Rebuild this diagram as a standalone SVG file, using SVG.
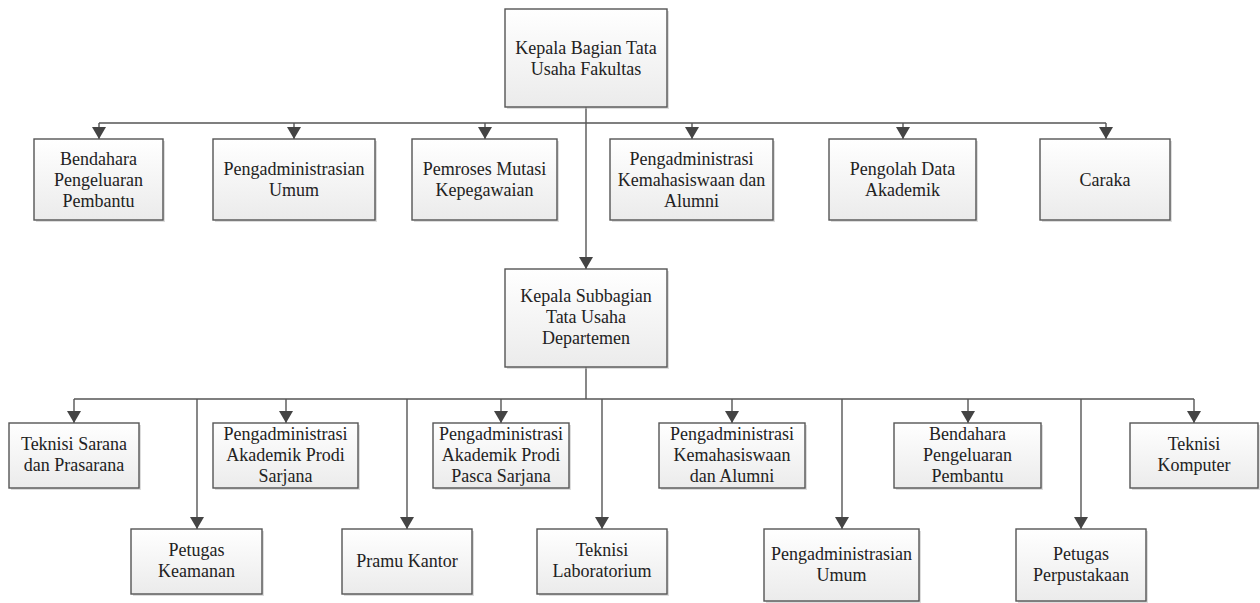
<svg xmlns="http://www.w3.org/2000/svg" width="1260" height="603" viewBox="0 0 1260 603">
<style>
.box{fill:url(#g);stroke:#555;stroke-width:1.4}
.sh{fill:#bbb;opacity:0.5}
text{font-family:'Liberation Serif','Times New Roman',Tinos,'DejaVu Serif',serif;font-size:18px;fill:#222;text-anchor:middle}
.c{fill:none;stroke:#555;stroke-width:1.4}
.a{marker-end:url(#ar)}
</style>
<defs>
<linearGradient id="g" x1="0" y1="0" x2="0" y2="1">
<stop offset="0" stop-color="#ffffff"/>
<stop offset="1" stop-color="#ebebeb"/>
</linearGradient>
<marker id="ar" markerUnits="userSpaceOnUse" markerWidth="16" markerHeight="16" refX="12" refY="7" orient="auto">
<path d="M0,0 L12,7 L0,14 z" fill="#444"/>
</marker>
</defs>
<rect width="1260" height="603" fill="#fff"/>
<g id="connectors">
<path class="c a" d="M586,107 V269"/>
<path class="c" d="M99,123 H1106"/>
<path class="c a" d="M99,123 V139"/>
<path class="c a" d="M294,123 V139"/>
<path class="c a" d="M485,123 V139"/>
<path class="c a" d="M692,123 V139"/>
<path class="c a" d="M903,123 V139"/>
<path class="c a" d="M1106,123 V139"/>
<path class="c" d="M586,367 V399"/>
<path class="c" d="M74,399 H1194"/>
<path class="c a" d="M74,399 V423"/>
<path class="c a" d="M286,399 V423"/>
<path class="c a" d="M501,399 V423"/>
<path class="c a" d="M732,399 V423"/>
<path class="c a" d="M968,399 V423"/>
<path class="c a" d="M1194,399 V423"/>
<path class="c a" d="M197,399 V529"/>
<path class="c a" d="M407,399 V529"/>
<path class="c a" d="M602,399 V529"/>
<path class="c a" d="M842,399 V529"/>
<path class="c a" d="M1081,399 V529"/>
</g>
<g id="n-kabag">
<rect class="sh" x="507" y="11" width="162" height="98"/>
<rect class="box" x="505" y="9" width="162" height="98"/>
<text x="586" y="53.5" font-family="Liberation Serif, serif">Kepala Bagian Tata</text>
<text x="586" y="74.5" font-family="Liberation Serif, serif">Usaha Fakultas</text>
</g>
<g id="n-bendahara1">
<rect class="sh" x="36" y="141" width="129" height="81"/>
<rect class="box" x="34" y="139" width="129" height="81"/>
<text x="98.5" y="165">Bendahara</text>
<text x="98.5" y="186">Pengeluaran</text>
<text x="98.5" y="207">Pembantu</text>
</g>
<g id="n-pengumum1">
<rect class="sh" x="215" y="141" width="162" height="81"/>
<rect class="box" x="213" y="139" width="162" height="81"/>
<text x="294" y="175">Pengadministrasian</text>
<text x="294" y="196">Umum</text>
</g>
<g id="n-mutasi">
<rect class="sh" x="414" y="141" width="145" height="81"/>
<rect class="box" x="412" y="139" width="145" height="81"/>
<text x="484.5" y="175">Pemroses Mutasi</text>
<text x="484.5" y="196">Kepegawaian</text>
</g>
<g id="n-kemahasiswaan1">
<rect class="sh" x="612" y="141" width="163" height="81"/>
<rect class="box" x="610" y="139" width="163" height="81"/>
<text x="691.5" y="165">Pengadministrasi</text>
<text x="691.5" y="186">Kemahasiswaan dan</text>
<text x="691.5" y="207">Alumni</text>
</g>
<g id="n-pengolah">
<rect class="sh" x="831" y="141" width="147" height="81"/>
<rect class="box" x="829" y="139" width="147" height="81"/>
<text x="902.5" y="175">Pengolah Data</text>
<text x="902.5" y="196">Akademik</text>
</g>
<g id="n-caraka">
<rect class="sh" x="1042" y="141" width="130" height="81"/>
<rect class="box" x="1040" y="139" width="130" height="81"/>
<text x="1105" y="185.5">Caraka</text>
</g>
<g id="n-kasubbag">
<rect class="sh" x="507" y="271" width="162" height="98"/>
<rect class="box" x="505" y="269" width="162" height="98"/>
<text x="586" y="302">Kepala Subbagian</text>
<text x="586" y="323">Tata Usaha</text>
<text x="586" y="344">Departemen</text>
</g>
<g id="n-teknisi-sarana">
<rect class="sh" x="11" y="425" width="130" height="65"/>
<rect class="box" x="9" y="423" width="130" height="65"/>
<text x="74" y="450">Teknisi Sarana</text>
<text x="74" y="471">dan Prasarana</text>
</g>
<g id="n-akademik-sarjana">
<rect class="sh" x="215" y="425" width="145" height="65"/>
<rect class="box" x="213" y="423" width="145" height="65"/>
<text x="285.5" y="439.5">Pengadministrasi</text>
<text x="285.5" y="460.5">Akademik Prodi</text>
<text x="285.5" y="481.5">Sarjana</text>
</g>
<g id="n-akademik-pasca">
<rect class="sh" x="435" y="425" width="136" height="65"/>
<rect class="box" x="433" y="423" width="136" height="65"/>
<text x="501" y="439.5">Pengadministrasi</text>
<text x="501" y="460.5">Akademik Prodi</text>
<text x="501" y="481.5">Pasca Sarjana</text>
</g>
<g id="n-kemahasiswaan2">
<rect class="sh" x="661" y="425" width="146" height="65"/>
<rect class="box" x="659" y="423" width="146" height="65"/>
<text x="732" y="439.5">Pengadministrasi</text>
<text x="732" y="460.5">Kemahasiswaan</text>
<text x="732" y="481.5">dan Alumni</text>
</g>
<g id="n-bendahara2">
<rect class="sh" x="896" y="425" width="147" height="65"/>
<rect class="box" x="894" y="423" width="147" height="65"/>
<text x="967.5" y="439.5">Bendahara</text>
<text x="967.5" y="460.5">Pengeluaran</text>
<text x="967.5" y="481.5">Pembantu</text>
</g>
<g id="n-teknisi-komputer">
<rect class="sh" x="1132" y="425" width="128" height="65"/>
<rect class="box" x="1130" y="423" width="128" height="65"/>
<text x="1194" y="450">Teknisi</text>
<text x="1194" y="471">Komputer</text>
</g>
<g id="n-petugas-keamanan">
<rect class="sh" x="133" y="531" width="131" height="65"/>
<rect class="box" x="131" y="529" width="131" height="65"/>
<text x="196.5" y="556">Petugas</text>
<text x="196.5" y="577">Keamanan</text>
</g>
<g id="n-pramu">
<rect class="sh" x="344" y="531" width="130" height="65"/>
<rect class="box" x="342" y="529" width="130" height="65"/>
<text x="407" y="567">Pramu Kantor</text>
</g>
<g id="n-teknisi-lab">
<rect class="sh" x="539" y="531" width="130" height="65"/>
<rect class="box" x="537" y="529" width="130" height="65"/>
<text x="602" y="556">Teknisi</text>
<text x="602" y="577">Laboratorium</text>
</g>
<g id="n-pengumum2">
<rect class="sh" x="766" y="531" width="155" height="72"/>
<rect class="box" x="764" y="529" width="155" height="72"/>
<text x="841.5" y="560">Pengadministrasian</text>
<text x="841.5" y="581">Umum</text>
</g>
<g id="n-perpustakaan">
<rect class="sh" x="1018" y="531" width="130" height="72"/>
<rect class="box" x="1016" y="529" width="130" height="72"/>
<text x="1081" y="560">Petugas</text>
<text x="1081" y="581">Perpustakaan</text>
</g>
</svg>
